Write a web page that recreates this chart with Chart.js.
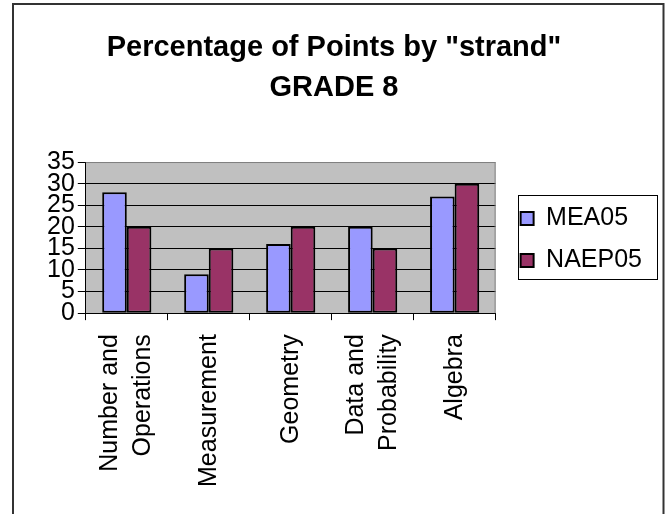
<!DOCTYPE html>
<html>
<head>
<meta charset="utf-8">
<script src="https://cdn.jsdelivr.net/npm/chart.js@4.4.1/dist/chart.umd.min.js"></script>
<style>
  html, body { margin: 0; padding: 0; background: #fff; }
  canvas { display: block; }
</style>
</head>
<body>
<canvas id="strandChart" width="669" height="514"></canvas>
<script>
const titleLines = ['Percentage of Points by "strand"', 'GRADE 8'];
const categories = [['Number and', 'Operations'], 'Measurement', 'Geometry', ['Data and', 'Probability'], 'Algebra'];
const seriesNames = ['MEA05', 'NAEP05'];
const mea05 = [28, 9, 16, 20, 27];
const naep05 = [20, 15, 20, 15, 30];
const yMin = 0;
const yMax = 35;
const yStep = 5;

const FONT = "'Liberation Sans', Arial, sans-serif";
const LABEL_LINE = 25 * 1.3;
const LEGEND_DX = 8;
const LEGEND_DY = -21;

// dark frame round the whole chart (no bottom edge in the reference)
const outerFrame = {
    id: 'outerFrame',
    afterDraw(chart) {
        const ctx = chart.ctx;
        ctx.save();
        ctx.strokeStyle = '#333';
        ctx.lineWidth = 2;
        ctx.strokeRect(13, 4, 650.5, 540);
        ctx.restore();
    }
};

// grey plot area, like the old Excel charts
const plotBackground = {
    id: 'plotBackground',
    beforeDraw(chart) {
        const {ctx, chartArea} = chart;
        ctx.save();
        ctx.fillStyle = '#fff';
        ctx.fillRect(0, 0, chart.width, chart.height);
        ctx.fillStyle = '#C0C0C0';
        ctx.fillRect(chartArea.left, chartArea.top, chartArea.right - chartArea.left, chartArea.bottom - chartArea.top);
        ctx.restore();
    },
    beforeDatasetsDraw(chart) {
        const {ctx, chartArea} = chart;
        ctx.save();
        ctx.strokeStyle = '#808080';
        ctx.lineWidth = 1;
        ctx.beginPath();
        ctx.moveTo(chartArea.left, chartArea.top + 0.5);
        ctx.lineTo(chartArea.right - 0.5, chartArea.top + 0.5);
        ctx.lineTo(chartArea.right - 0.5, chartArea.bottom);
        ctx.stroke();
        ctx.restore();
    }
};

// nudge title, legend and two-line category labels to where the reference has them
const nudge = {
    id: 'nudge',
    afterLayout(chart) {
        if (chart.titleBlock) {
            chart.titleBlock.left -= 10;
            chart.titleBlock.right -= 10;
        }
        if (chart.legend) {
            chart.legend.left += LEGEND_DX;
            chart.legend.right += LEGEND_DX;
            chart.legend.top += LEGEND_DY;
            chart.legend.bottom += LEGEND_DY;
        }
    },
    beforeDraw(chart) {
        // chart.js puts the first line of a rotated label on the tick; centre both lines instead
        const items = chart.scales.x.getLabelItems();
        items.forEach((it) => {
            const n = Array.isArray(it.label) ? it.label.length : 1;
            if (n > 1 && !it.centred) {
                it.options.translation[0] -= (n - 1) * LABEL_LINE / 2;
                it.centred = true;
            }
        });
    }
};

// box round the legend
const legendFrame = {
    id: 'legendFrame',
    afterDraw(chart) {
        const legend = chart.legend;
        const boxes = legend && legend.legendHitBoxes;
        if (!boxes || !boxes.length) return;
        const ctx = chart.ctx;
        const left = legend.left + 17 - 3;
        const top = boxes[0].top - 11;
        ctx.save();
        ctx.strokeStyle = '#000';
        ctx.lineWidth = 1;
        ctx.strokeRect(Math.round(left) + 0.5, Math.round(top) + 0.5, 139, 84);
        ctx.restore();
    }
};

const ctx = document.getElementById('strandChart').getContext('2d');

new Chart(ctx, {
    type: 'bar',
    data: {
        labels: categories,
        datasets: [
            {
                label: seriesNames[0],
                data: mea05,
                backgroundColor: '#9999FF',
                borderColor: '#000',
                borderWidth: 2,
                borderSkipped: false
            },
            {
                label: seriesNames[1],
                data: naep05,
                backgroundColor: '#993366',
                borderColor: '#000',
                borderWidth: 2,
                borderSkipped: false
            }
        ]
    },
    options: {
        responsive: false,
        animation: false,
        barPercentage: 1.0,
        categoryPercentage: 0.6,
        layout: {
            padding: { left: 44, right: 25, top: 20, bottom: 13 }
        },
        scales: {
            x: {
                grid: {
                    drawOnChartArea: false,
                    offset: true,
                    color: '#000',
                    tickLength: 7
                },
                border: { color: '#000', width: 1 },
                ticks: {
                    autoSkip: false,
                    minRotation: 90,
                    maxRotation: 90,
                    padding: 14,
                    color: '#000',
                    font: { family: FONT, size: 25, lineHeight: 1.3 }
                }
            },
            y: {
                min: yMin,
                max: yMax,
                grid: {
                    color: (c) => (c.tick && c.tick.value === yMax ? '#808080' : '#000'),
                    tickColor: '#000',
                    tickLength: 8
                },
                border: { color: '#000', width: 1 },
                ticks: {
                    stepSize: yStep,
                    autoSkip: false,
                    padding: 3,
                    color: '#000',
                    font: { family: FONT, size: 25 }
                }
            }
        },
        plugins: {
            title: {
                display: true,
                text: titleLines,
                color: '#000',
                font: { family: FONT, size: 29, weight: 'bold', lineHeight: 1.38 },
                padding: { top: 8, bottom: 54 }
            },
            legend: {
                position: 'right',
                labels: {
                    boxWidth: 13,
                    boxHeight: 13,
                    padding: 17,
                    color: '#000',
                    font: { family: FONT, size: 25 }
                }
            },
            tooltip: { enabled: false }
        }
    },
    plugins: [plotBackground, nudge, outerFrame, legendFrame]
});
</script>
</body>
</html>
